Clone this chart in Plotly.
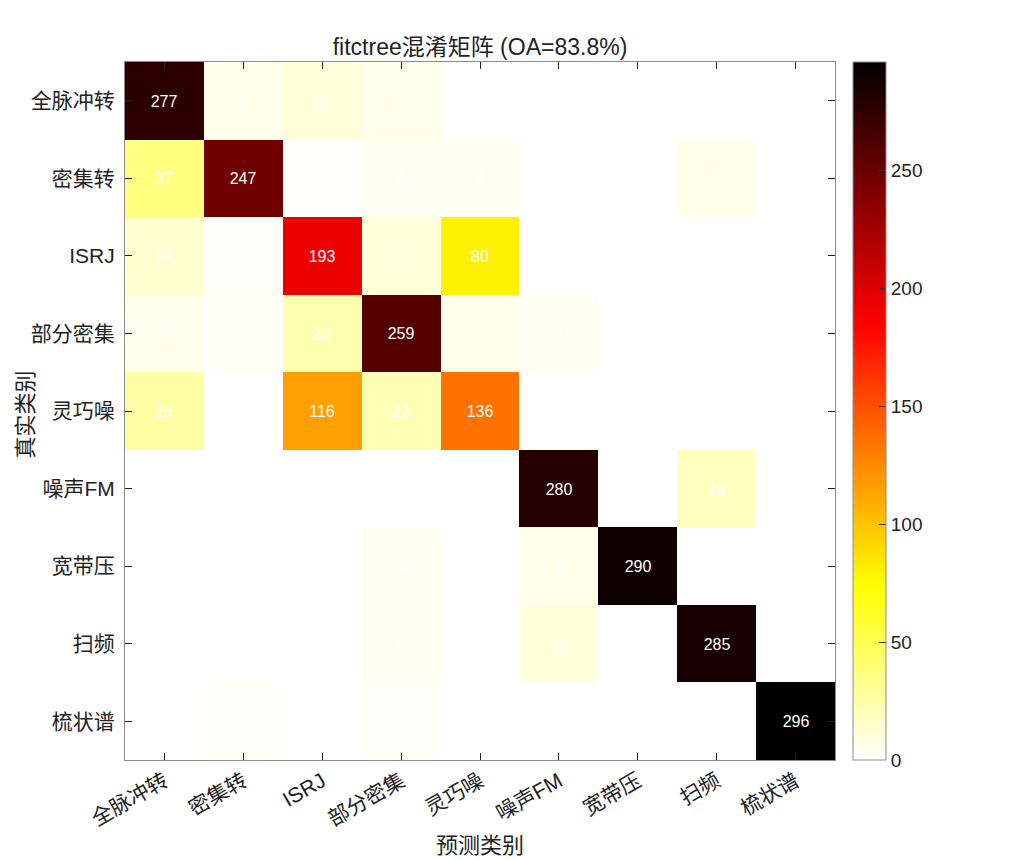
import plotly.graph_objects as go

categories = ["全脉冲转", "密集转", "ISRJ", "部分密集", "灵巧噪", "噪声FM", "宽带压", "扫频", "梳状谱"]

# rows = true class, cols = predicted class
row_qmc = [277, 6, 11, 5, 0, 0, 0, 0, 0]
row_mjz = [37, 247, 1, 4, 4, 0, 0, 6, 0]
row_isrj = [14, 2, 193, 11, 80, 0, 0, 0, 0]
row_bfmj = [5, 3, 23, 259, 6, 4, 0, 0, 0]
row_lqz = [26, 0, 116, 22, 136, 0, 0, 0, 0]
row_zsfm = [0, 0, 0, 0, 0, 280, 0, 19, 0]
row_kdy = [0, 0, 0, 4, 0, 6, 290, 0, 0]
row_sp = [0, 0, 0, 4, 0, 11, 0, 285, 0]
row_zzp = [0, 2, 0, 2, 0, 0, 0, 0, 296]

z = [row_qmc, row_mjz, row_isrj, row_bfmj, row_lqz, row_zsfm, row_kdy, row_sp, row_zzp]
text = [[str(v) if v > 0 else "" for v in r] for r in z]
zmax = max(max(r) for r in z)

colorscale = [
    [0.0, "rgb(255,255,255)"],
    [0.25, "rgb(255,255,0)"],
    [0.625, "rgb(255,0,0)"],
    [1.0, "rgb(0,0,0)"],
]

FONT = "Liberation Sans, Arial, Noto Sans CJK SC"

W, H = 1000, 852
L, T = 117, 54
PW, PH = 710, 698

fig = go.Figure(
    go.Heatmap(
        z=z,
        x=categories,
        y=categories,
        text=text,
        texttemplate="%{text}",
        textfont=dict(color="white", size=16, family=FONT),
        colorscale=colorscale,
        zmin=0,
        zmax=zmax,
        colorbar=dict(
            x=(845 - L) / PW,
            xanchor="left",
            y=0.5,
            yanchor="middle",
            len=1.0,
            lenmode="fraction",
            thickness=33,
            thicknessmode="pixels",
            outlinecolor="#8c8c8c",
            outlinewidth=1,
            tickvals=[0, 50, 100, 150, 200, 250],
            ticks="inside",
            ticklen=7,
            tickcolor="#333",
            tickfont=dict(size=19, family=FONT, color="#222"),
            xpad=0,
            ypad=0,
        ),
    )
)

fig.update_layout(
    width=W,
    height=H,
    margin=dict(l=L, r=W - L - PW, t=T, b=H - T - PH),
    paper_bgcolor="white",
    plot_bgcolor="white",
    font=dict(family=FONT, color="#222"),
    title=dict(
        text="fitctree混淆矩阵 (OA=83.8%)",
        x=0.5,
        xref="paper",
        xanchor="center",
        y=1 - 39 / H,
        yanchor="middle",
        font=dict(size=23, family=FONT, color="#222"),
    ),
    xaxis=dict(
        tickangle=-30,
        tickfont=dict(size=21, family=FONT),
        ticks="inside",
        ticklen=7,
        tickcolor="#222",
        showline=True,
        linecolor="#8c8c8c",
        linewidth=1,
        mirror="ticks",
        showgrid=False,
        zeroline=False,
        automargin=False,
    ),
    yaxis=dict(
        autorange="reversed",
        tickfont=dict(size=21, family=FONT),
        ticklabelstandoff=5,
        ticks="inside",
        ticklen=7,
        tickcolor="#222",
        showline=True,
        linecolor="#8c8c8c",
        linewidth=1,
        mirror="ticks",
        showgrid=False,
        zeroline=False,
        automargin=False,
    ),
    annotations=[
        dict(
            text="预测类别", xref="paper", yref="paper",
            x=0.5, y=-(837 - T - PH) / PH, xanchor="center", yanchor="middle",
            showarrow=False, font=dict(size=22, family=FONT, color="#222"),
        ),
        dict(
            text="真实类别", xref="paper", yref="paper",
            x=-(L - 2) / PW, y=(T + PH - 407) / PH, xanchor="left", yanchor="middle",
            textangle=-90, showarrow=False, font=dict(size=22, family=FONT, color="#222"),
        ),
    ],
)

fig.write_html("out.html")
